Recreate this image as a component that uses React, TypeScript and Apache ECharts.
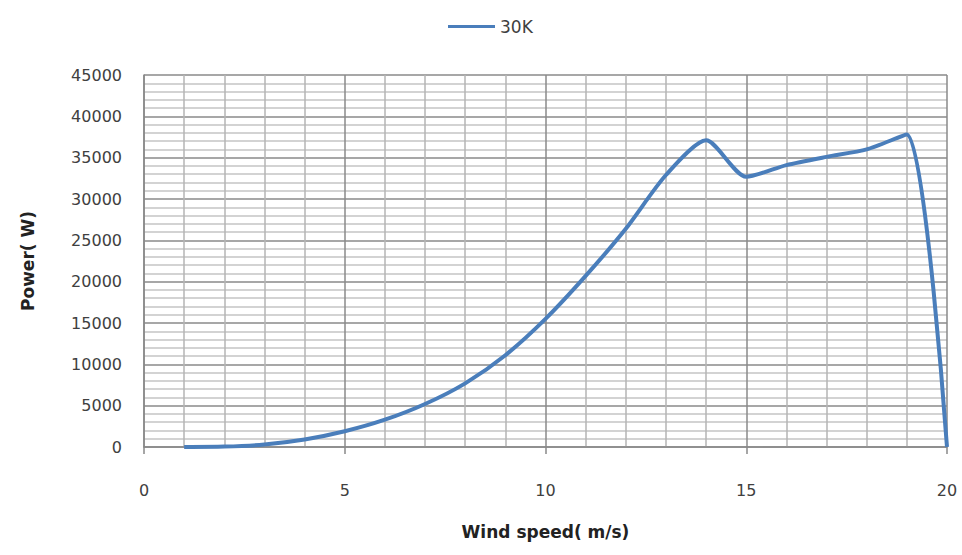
import React, { useEffect, useRef } from "react";
import * as echarts from "echarts";

const windSpeed = [1, 2, 3, 4, 5, 6, 7, 8, 9, 10, 11, 12, 13, 14, 15, 16, 17, 18, 19, 20];
const power = [0, 50, 300, 900, 1900, 3300, 5200, 7700, 11100, 15500, 20700, 26400, 32900, 37100, 32700, 34100, 35100, 36000, 37800, 0];
const seriesName = "30K";
const xTitle = "Wind speed( m/s)";
const yTitle = "Power( W)";

export default function App() {
  const ref = useRef<HTMLDivElement>(null);
  useEffect(() => {
    if (!ref.current) return;
    const chart = echarts.init(ref.current, undefined, { renderer: "svg" });
    const font = "'DejaVu Sans', sans-serif";
    chart.setOption({
      animation: false,
      backgroundColor: "#ffffff",
      legend: {
        top: 13,
        left: 443,
        icon: "rect",
        itemWidth: 47,
        itemHeight: 3,
        itemGap: 6,
        textStyle: { fontFamily: font, fontSize: 17, color: "#404040" },
        data: [seriesName],
      },
      grid: { left: 144, right: 15, top: 75, bottom: 108, containLabel: false },
      xAxis: {
        type: "value",
        min: 0,
        max: 20,
        interval: 5,
        name: xTitle,
        nameLocation: "middle",
        nameGap: 76,
        nameTextStyle: { fontFamily: font, fontSize: 17, fontWeight: "bold", color: "#222" },
        axisLine: { show: true, lineStyle: { color: "#888", width: 1.5 } },
        axisTick: { show: true, length: 7, lineStyle: { color: "#888", width: 1.5 } },
        axisLabel: { margin: 35, fontFamily: font, fontSize: 16, color: "#404040" },
        splitLine: { show: true, lineStyle: { color: "#8a8a8a", width: 1.5 } },
        minorTick: { show: false, splitNumber: 5 },
        minorSplitLine: { show: true, lineStyle: { color: "#b4b4b4", width: 1.5 } },
      },
      yAxis: {
        type: "value",
        min: 0,
        max: 45000,
        interval: 5000,
        name: yTitle,
        nameLocation: "middle",
        nameGap: 108,
        nameRotate: 90,
        nameTextStyle: { fontFamily: font, fontSize: 17, fontWeight: "bold", color: "#222" },
        axisLine: { show: true, lineStyle: { color: "#888", width: 1.5 } },
        axisTick: { show: false },
        axisLabel: {
          margin: 22,
          fontFamily: font,
          fontSize: 16,
          color: "#404040",
          formatter: (v: number) => String(v),
        },
        splitLine: { show: true, lineStyle: { color: "#8a8a8a", width: 1.5 } },
        minorTick: { show: false, splitNumber: 5 },
        minorSplitLine: { show: true, lineStyle: { color: "#c4c4c4", width: 1.5 } },
      },
      series: [
        {
          name: seriesName,
          type: "line",
          smooth: 0.25,
          symbol: "none",
          lineStyle: { color: "#4a7ebb", width: 4 },
          itemStyle: { color: "#4a7ebb" },
          data: windSpeed.map((x, i) => [x, power[i]]),
        },
      ],
    });
    return () => chart.dispose();
  }, []);
  return (
    <div
      ref={ref}
      style={{ position: "fixed", left: 0, top: 0, width: 962, height: 555, background: "#fff" }}
    />
  );
}
